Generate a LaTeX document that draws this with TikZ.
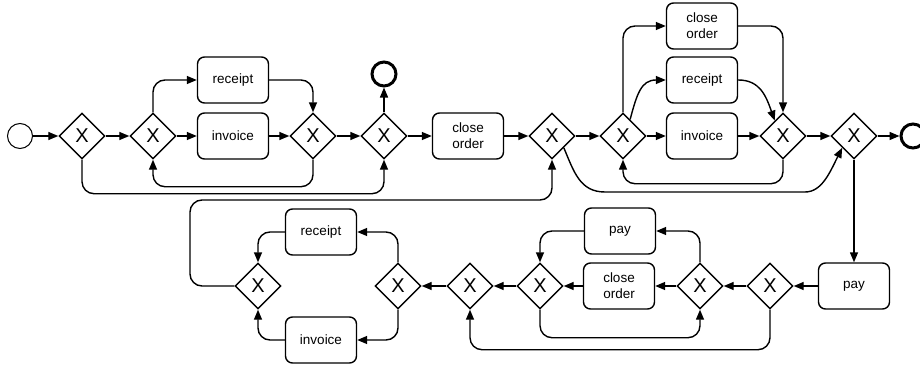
\documentclass[tikz,border=0pt]{standalone}
\usepackage{fontspec}
\setmainfont{Liberation Sans}
\usetikzlibrary{shapes.geometric,arrows.meta,calc}
\begin{document}
\begin{tikzpicture}[x=1pt,y=-1pt,
 gw/.style={diamond,draw,line width=1.4pt,minimum width=46pt,minimum height=46pt,inner sep=0pt,font=\fontsize{20}{20}\selectfont},
 task/.style={draw,rounded corners=7pt,line width=1.4pt,minimum width=71pt,minimum height=46pt,inner sep=2pt,align=center,font=\fontsize{13.5}{16}\selectfont},
 startev/.style={circle,draw,line width=1pt,minimum size=25pt,inner sep=0pt},
 endev/.style={circle,draw,line width=3pt,minimum size=24pt,inner sep=0pt},
 flow/.style={line width=1.4pt,-{Triangle[length=10pt,width=8pt]},rounded corners=12pt},
 curveflow/.style={line width=1.4pt,-{Triangle[length=10pt,width=8pt]},sharp corners}]
\useasboundingbox (0,0) rectangle (920,369);
% top row
\node[startev] (s) at (20,136) {};
\node[gw] (g1) at (82,136) {X};
\node[gw] (g2) at (153,136) {X};
\node[task] (rec1) at (233,80) {receipt};
\node[task] (inv1) at (233,136) {invoice};
\node[gw] (g3) at (313,136) {X};
\node[gw] (g4) at (384,136) {X};
\node[endev] (e1) at (384,74) {};
\node[task] (co1) at (468,136) {close\\order};
\node[gw] (g5) at (552,136) {X};
\node[gw] (g6) at (623,136) {X};
\node[task] (co2) at (702,26) {close\\order};
\node[task] (rec2) at (702,80) {receipt};
\node[task] (inv2) at (702,136) {invoice};
\node[gw] (g7) at (783,136) {X};
\node[gw] (g8) at (854,136) {X};
\node[endev] (e2) at (913,136) {};
% bottom row
\node[task] (pay1) at (854,286) {pay};
\node[gw] (b1) at (770,286) {X};
\node[gw] (b2) at (700,286) {X};
\node[task] (pay2) at (620,231) {pay};
\node[task] (co3) at (619,286) {close\\order};
\node[gw] (b3) at (540,286) {X};
\node[gw] (b4) at (470,286) {X};
\node[gw] (b5) at (398,286) {X};
\node[task] (rec3) at (321,232) {receipt};
\node[task] (inv3) at (321,340) {invoice};
\node[gw] (b6) at (258,286) {X};
\coordinate (g6r) at ($(g6.north)!0.3!(g6.east)$);
\coordinate (g7l) at ($(g7.north)!0.35!(g7.west)$);
% top flows
\draw[flow] (s) -- (g1);
\draw[flow] (g1) -- (g2);
\draw[flow] (g2) -- (inv1);
\draw[flow] (g2.north) |- (rec1.west);
\draw[flow] (rec1.east) -| (g3.north);
\draw[flow] (inv1) -- (g3);
\draw[flow] (g3.south) -- ++(0,27) -| (g2.south);
\draw[flow] (g3) -- (g4);
\draw[flow] (g1.south) -- ++(0,34) -| (g4.south);
\draw[flow] (g4.north) -- (e1.south);
\draw[flow] (g4) -- (co1);
\draw[flow] (co1) -- (g5);
\draw[flow] (g5) -- (g6);
\draw[flow] (g6) -- (inv2);
\draw[flow] (g6.north) |- (co2.west);
\draw[curveflow] (g6r) .. controls (637,94) and (641,80) .. (rec2.west);
\draw[curveflow] (rec2.east) .. controls (760,80) and (766,96) .. (g7l);
\draw[flow] (co2.east) -| (g7.north);
\draw[flow] (inv2) -- (g7);
\draw[flow] (g7.south) -- ++(0,24) -| (g6.south);
\draw[flow] (g7) -- (g8);
\draw[curveflow] (g5.south east) .. controls (574,172) and (580,192) .. (605,192) -- (805,192) .. controls (822,192) and (830,172) .. (g8.south west);
\draw[flow] (g8) -- (e2);
\draw[flow] (g8.south) -- (pay1.north);
% bottom flows
\draw[flow] (pay1) -- (b1);
\draw[flow] (b1) -- (b2);
\draw[flow] (b2) -- (co3);
\draw[flow] (co3) -- (b3);
\draw[flow] (b2.north) |- (pay2.east);
\draw[flow] (pay2.west) -| (b3.north);
\draw[flow] (b3.south) -- ++(0,28) -| (b2.south);
\draw[flow] (b3) -- (b4);
\draw[flow] (b1.south) -- ++(0,40) -| (b4.south);
\draw[flow] (b4) -- (b5);
\draw[flow] (b5.north) |- (rec3.east);
\draw[flow] (b5.south) |- (inv3.east);
\draw[flow] (rec3.west) -| (b6.north);
\draw[flow] (inv3.west) -| (b6.south);
\draw[flow] (b6.west) -| (190,200) -| (g5.south);
\end{tikzpicture}
\end{document}
